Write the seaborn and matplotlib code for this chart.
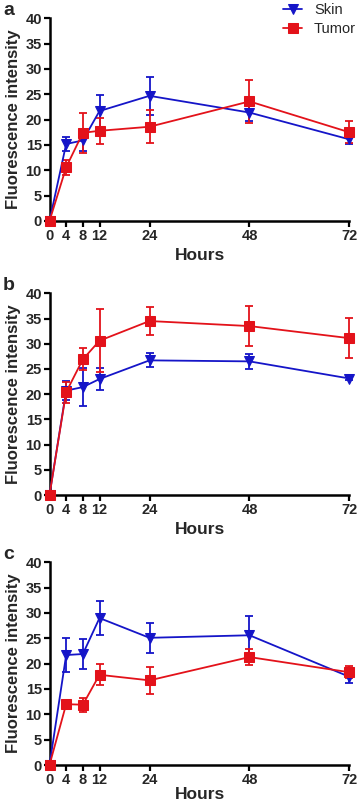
import matplotlib
matplotlib.use("Agg")
import matplotlib.pyplot as plt
import pandas as pd
import seaborn as sns

# ── Data ───────────────────────────────────────────────────────────────────
hours = [0, 4, 8, 12, 24, 48, 72]
panels = ["a", "b", "c"]

skin_a = [0, 15.2, 15.9, 21.7, 24.7, 21.4, 16.1]
skin_a_err = [0, 1.4, 2.1, 3.1, 3.7, 1.6, 1.0]
tumor_a = [0, 10.6, 17.4, 17.8, 18.6, 23.6, 17.5]
tumor_a_err = [0, 1.5, 3.9, 2.6, 3.3, 4.3, 2.2]

skin_b = [0, 20.7, 21.4, 23.0, 26.7, 26.5, 23.1]
skin_b_err = [0, 1.9, 3.8, 2.1, 1.4, 1.5, 0.3]
tumor_b = [0, 20.4, 26.9, 30.6, 34.5, 33.5, 31.1]
tumor_b_err = [0, 2.1, 2.2, 6.3, 2.7, 4.0, 4.0]

skin_c = [0, 21.7, 21.9, 29.0, 25.1, 25.6, 17.4]
skin_c_err = [0, 3.3, 3.0, 3.4, 3.0, 3.9, 1.3]
tumor_c = [0, 12.0, 11.9, 17.8, 16.7, 21.3, 18.3]
tumor_c_err = [0, 0.9, 1.4, 2.1, 2.6, 1.6, 1.2]

y_ticks = [0, 5, 10, 15, 20, 25, 30, 35, 40]

series = {
    "a": [("Skin", skin_a, skin_a_err), ("Tumor", tumor_a, tumor_a_err)],
    "b": [("Skin", skin_b, skin_b_err), ("Tumor", tumor_b, tumor_b_err)],
    "c": [("Skin", skin_c, skin_c_err), ("Tumor", tumor_c, tumor_c_err)],
}

colors = {"Skin": "#1515c8", "Tumor": "#e3121a"}
markers = {"Skin": "v", "Tumor": "s"}
msize = {"Skin": 6.5, "Tumor": 6.5}

sns.set_theme(style="ticks")
plt.rcParams["font.family"] = ["Liberation Sans", "DejaVu Sans"]

W, H = 359, 805
fig = plt.figure(figsize=(W / 100, H / 100), dpi=100)

# axes rectangles in pixels: (left, top of y=40, bottom of y=0)
rects = {"a": (49.5, 18.3, 221), "b": (49.5, 293.3, 495), "c": (49.5, 562.3, 765)}
xlabel_pad = {"a": 4, "b": 4, "c": 0.5}
right_px = 349.5

for p in panels:
    left, top, bottom = rects[p]
    ax = fig.add_axes([left / W, 1 - bottom / H, (right_px - left) / W, (bottom - top) / H])

    for name, vals, err in series[p]:
        df = pd.DataFrame({"Hours": hours, "value": vals, "err": err})
        ax.errorbar(df["Hours"], df["value"], yerr=df["err"], fmt="none",
                    ecolor=colors[name], elinewidth=1.3, capsize=3, capthick=1.3,
                    clip_on=False, zorder=3)
        sns.lineplot(data=df, x="Hours", y="value", ax=ax, color=colors[name],
                     marker=markers[name], markersize=msize[name],
                     markeredgecolor=colors[name], linewidth=1.3,
                     label=name, legend=False, clip_on=False, zorder=4)

    ax.set_xlim(0, 72)
    ax.set_ylim(0, 40)
    ax.set_xticks(hours)
    ax.set_yticks(y_ticks)
    ax.set_xticklabels([str(h) for h in hours], fontweight="bold", fontsize=10.5)
    ax.set_yticklabels([str(t) for t in y_ticks], fontweight="bold", fontsize=10.5)
    ax.tick_params(axis="both", length=4, width=1.6, color="black", pad=1.5)
    sns.despine(ax=ax)
    for s in ("left", "bottom"):
        ax.spines[s].set_linewidth(1.8)
        ax.spines[s].set_color("black")
    ax.set_xlabel("Hours", fontweight="bold", fontsize=12.5, labelpad=xlabel_pad[p])
    ax.set_ylabel("Fluorescence intensity", fontweight="bold", fontsize=12, labelpad=3)

    fig.text(3 / W, 1 - (top - 8) / H, p, fontweight="bold", fontsize=14,
             ha="left", va="center")

    if p == "a":
        handles, labels = ax.get_legend_handles_labels()
        fig.legend(handles, labels, loc="upper right", bbox_to_anchor=(1.0, 1.0),
                   bbox_transform=fig.transFigure, frameon=False, fontsize=10.5,
                   handlelength=1.3, handletextpad=0.8, labelspacing=0.35,
                   borderaxespad=0.1, borderpad=0.1)

fig.savefig("out.png", dpi=100)
